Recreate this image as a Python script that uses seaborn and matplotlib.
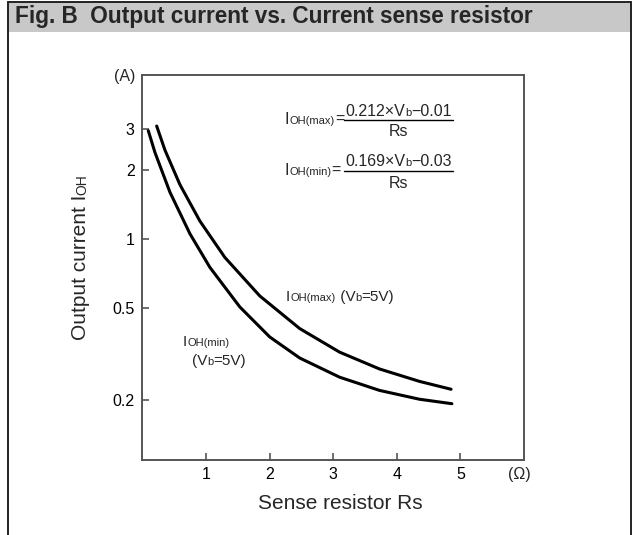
import matplotlib
matplotlib.use("Agg")
import matplotlib.pyplot as plt
import seaborn as sns
import pandas as pd
from matplotlib.transforms import IdentityTransform
from matplotlib.patches import Rectangle
from matplotlib.lines import Line2D

# ---- data ----
rs_max = [0.2267, 0.3569, 0.5922, 0.9059, 1.2980, 1.8471, 2.4745, 3.1020, 3.7294, 4.3569, 4.8541]
ioh_max = [3.102, 2.437, 1.725, 1.198, 0.8325, 0.566, 0.4083, 0.3224, 0.2724, 0.2406, 0.2223]
rs_min = [0.0949, 0.2000, 0.4353, 0.7490, 1.0627, 1.5333, 2.0039, 2.4745, 3.1020, 3.7294, 4.3569, 4.8667]
ioh_min = [2.960, 2.379, 1.599, 1.055, 0.7538, 0.5070, 0.3753, 0.3041, 0.2509, 0.2198, 0.2012, 0.1924]
x_ticks = [1, 2, 3, 4, 5]
y_ticks = [0.2, 0.5, 1, 2, 3]
y_ticklabels = ["0.2", "0.5", "1", "2", "3"]

sns.set_theme(style="white")
plt.rcParams["font.family"] = ["Liberation Sans", "DejaVu Sans"]

W, H = 634, 535
fig = plt.figure(figsize=(W / 100, H / 100), dpi=100)
ax = fig.add_axes([142.25 / W, 75 / H, (524 - 142.25) / W, (460 - 75) / H])

df_max = pd.DataFrame({"Rs": rs_max, "I": ioh_max})
df_min = pd.DataFrame({"Rs": rs_min, "I": ioh_min})
sns.lineplot(data=df_max, x="Rs", y="I", sort=False, color="black", lw=2.2, ax=ax)
sns.lineplot(data=df_min, x="Rs", y="I", sort=False, color="black", lw=2.2, ax=ax)

ax.set_yscale("log")
ax.set_xlim(0, 6)
ax.set_ylim(0.1095, 5.17)
ax.set_xticks(x_ticks)
ax.set_xticklabels([str(v) for v in x_ticks])
ax.set_yticks(y_ticks)
ax.set_yticklabels(y_ticklabels)
ax.minorticks_off()
ax.set_xlabel("")
ax.set_ylabel("")
for s in ax.spines.values():
    s.set_color("#555555")
    s.set_linewidth(1.4)
ax.tick_params(axis="both", direction="in", length=5, width=1.2, color="#555555",
               labelsize=11.5, labelcolor="black", left=True, bottom=True)
ax.tick_params(axis="x", pad=5)
ax.tick_params(axis="y", pad=5.5)

# ---- frame and title bar ----
fig.patches.append(Rectangle((8, H - 32), 623, 30, transform=IdentityTransform(),
                             facecolor="#c8c8c8", edgecolor="none", zorder=0))
for xs, ys in [([8, 8], [0, H - 2]), ([631, 631], [0, H - 2]), ([8, 631], [H - 2, H - 2])]:
    fig.lines.append(Line2D(xs, ys, transform=IdentityTransform(), color="#222222", lw=1.4))

fig.text(15, H - 17, "Fig. B  Output current vs. Current sense resistor",
         transform=IdentityTransform(), fontsize=16.3, fontweight="bold",
         va="center", ha="left")

renderer = fig.canvas.get_renderer()


def runs(x, y, parts, rotation=0):
    """Draw baseline-aligned text runs starting at pixel (x, y from top)."""
    px, py = x, H - y
    for txt, size in parts:
        t = fig.text(px, py, txt, transform=IdentityTransform(), fontsize=size,
                     ha="left", va="baseline", rotation=rotation,
                     rotation_mode="anchor")
        ext = t.get_window_extent(renderer)
        if rotation == 90:
            py += ext.height
        else:
            px += ext.width


def width_of(parts):
    tot = 0
    for txt, size in parts:
        t = fig.text(0, 0, txt, fontsize=size)
        tot += t.get_window_extent(renderer).width
        t.remove()
    return tot


# unit labels
fig.text(125, H - 77, "(A)", transform=IdentityTransform(), fontsize=11.5, ha="center", va="center")
fig.text(519, H - 474, "(Ω)", transform=IdentityTransform(), fontsize=11.5, ha="center", va="center")

# axis labels
xl = [("Sense resistor Rs", 15)]
runs(340 - width_of(xl) / 2, 509, xl)
yl = [("Output current I", 15), ("OH", 10)]
runs(86, 257 + width_of(yl) / 2, yl, rotation=90)

# curve labels
runs(286, 301, [("I", 11), ("OH(max)", 8), (" (V", 11), ("b", 8), ("=5V)", 11)])
runs(183, 346, [("I", 11), ("OH(min)", 8)])
runs(192, 365, [("(V", 11), ("b", 8), ("=5V)", 11)])


# formulas
def formula(y_line, lhs_sub, numer):
    runs(285, y_line + 4.5, [("I", 11.5), (lhs_sub, 8), ("=", 11.5)])
    nparts = [(numer[0], 11.5), ("b", 8), (numer[1], 11.5)]
    nw = width_of(nparts)
    cx = 398.5
    runs(cx - nw / 2, y_line - 4, nparts)
    fig.lines.append(Line2D([344, 452.5], [H - y_line, H - y_line],
                            transform=IdentityTransform(), color="black", lw=1.0))
    dp = [("Rs", 11.5)]
    runs(cx - width_of(dp) / 2, y_line + 17, dp)


formula(119.5, "OH(max)", ("0.212×V", "−0.01"))
formula(170.5, "OH(min)", ("0.169×V", "−0.03"))

fig.savefig("out.png", dpi=100)
